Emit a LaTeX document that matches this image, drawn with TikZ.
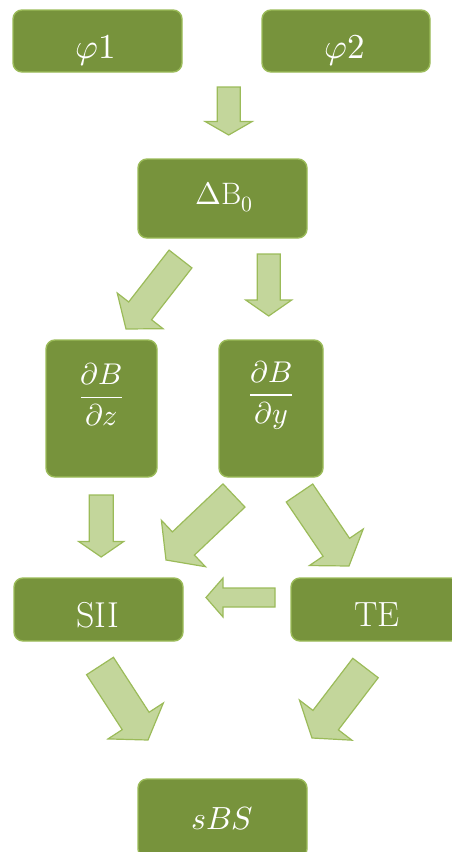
\documentclass[tikz,border=0pt]{standalone}
\usepackage{unicode-math}
\usetikzlibrary{calc}

\definecolor{boxfill}{HTML}{77933C}
\definecolor{boxedge}{HTML}{9BBB59}
\definecolor{arrowfill}{HTML}{C3D69B}

\tikzset{
  box/.style={draw=boxedge, fill=boxfill, line width=1.4pt, rounded corners=9pt,
              inner sep=0pt},
  txt/.style={text=white, inner sep=0pt},
  blockarrowstyle/.style={draw=boxedge, fill=arrowfill, line width=1.2pt, line join=miter},
}

% block arrow: #1 start (centre of the tail), #2 tip,
% #3 half shaft width, #4 half head width, #5 head length
\newcommand\blockarrow[5]{%
  \coordinate (bahead) at ($(#2)!#5!(#1)$);
  \draw[blockarrowstyle]
    ($(#1)!#3!90:(#2)$) -- ($(bahead)!#3!90:(#2)$) -- ($(bahead)!#4!90:(#2)$)
    -- (#2) -- ($(bahead)!#4!-90:(#2)$) -- ($(bahead)!#3!-90:(#2)$)
    -- ($(#1)!#3!-90:(#2)$) -- cycle;
}

\begin{document}
\begin{tikzpicture}[x=1pt, y=-1pt]
  \useasboundingbox (0,0) rectangle (452,852);
  \clip (0,0) rectangle (452,852);

  % boxes
  \node[box, minimum width=169pt, minimum height=62pt] (phi1) at (97.5,41) {};
  \node[box, minimum width=168pt, minimum height=62pt] (phi2) at (346,41) {};
  \node[box, minimum width=169pt, minimum height=79pt] (dB0) at (222.5,198.5) {};
  \node[box, minimum width=111pt, minimum height=137pt] (dBz) at (101.5,408.5) {};
  \node[box, minimum width=104pt, minimum height=137pt] (dBy) at (271,408.5) {};
  \node[box, minimum width=169pt, minimum height=63pt] (SII) at (98.5,609.5) {};
  \node[box, minimum width=169pt, minimum height=63pt] (TE) at (375.5,609.5) {};
  \node[box, minimum width=169pt, minimum height=79pt] (sBS) at (222.5,818.5) {};

  % labels
  \node[txt, anchor=base, font=\fontsize{35}{40}\selectfont] (phi1t) at (96,58) {$\varphi1$};
  \node[txt, anchor=base, font=\fontsize{35}{40}\selectfont] (phi2t) at (345,58) {$\varphi2$};
  \node[txt, anchor=base, font=\fontsize{31}{36}\selectfont] (dB0t) at (224,204) {$\Delta\mathrm{B}_{0}$};
  \node[txt, font=\fontsize{30}{34}\selectfont] (dBzt) at (101.5,395) {$\dfrac{\partial B}{\partial z}$};
  \node[txt, font=\fontsize{30}{34}\selectfont] (dByt) at (271,395) {$\dfrac{\partial B}{\partial y}$};
  \node[txt, anchor=base, font=\fontsize{36}{42}\selectfont] (SIIt) at (97.5,627) {SII};
  \node[txt, anchor=base, font=\fontsize{35}{42}\selectfont] (TEt) at (377,626) {TE};
  \node[txt, anchor=base, font=\fontsize{32}{38}\selectfont] (sBSt) at (222,829) {$sBS$};

  % arrow ends
  \coordinate (a1s) at (228.7,87);   \coordinate (a1t) at (228.7,135);
  \coordinate (a2s) at (180.5,259);  \coordinate (a2t) at (126,329);
  \coordinate (a3s) at (268.7,254);  \coordinate (a3t) at (268.7,316);
  \coordinate (a4s) at (101.2,495);  \coordinate (a4t) at (101.2,557);
  \coordinate (a5s) at (234,495.5);  \coordinate (a5t) at (166,560);
  \coordinate (a6s) at (299.5,493);  \coordinate (a6t) at (349,566);
  \coordinate (a7s) at (275,597.5);  \coordinate (a7t) at (206,597.5);
  \coordinate (a8s) at (100,666);    \coordinate (a8t) at (148,740);
  \coordinate (a9s) at (365.5,668);  \coordinate (a9t) at (312,738);

  \blockarrow{a1s}{a1t}{11.5pt}{23.5pt}{13.5pt}
  \blockarrow{a2s}{a2t}{14.5pt}{29pt}{23pt}
  \blockarrow{a3s}{a3t}{11.5pt}{23pt}{16pt}
  \blockarrow{a4s}{a4t}{12pt}{22.5pt}{15.5pt}
  \blockarrow{a5s}{a5t}{16pt}{32pt}{24pt}
  \blockarrow{a6s}{a6t}{16pt}{32.5pt}{22.6pt}
  \blockarrow{a7s}{a7t}{9.5pt}{19.5pt}{17pt}
  \blockarrow{a8s}{a8t}{16pt}{33pt}{22.7pt}
  \blockarrow{a9s}{a9t}{16pt}{33pt}{22.5pt}
\end{tikzpicture}
\end{document}
